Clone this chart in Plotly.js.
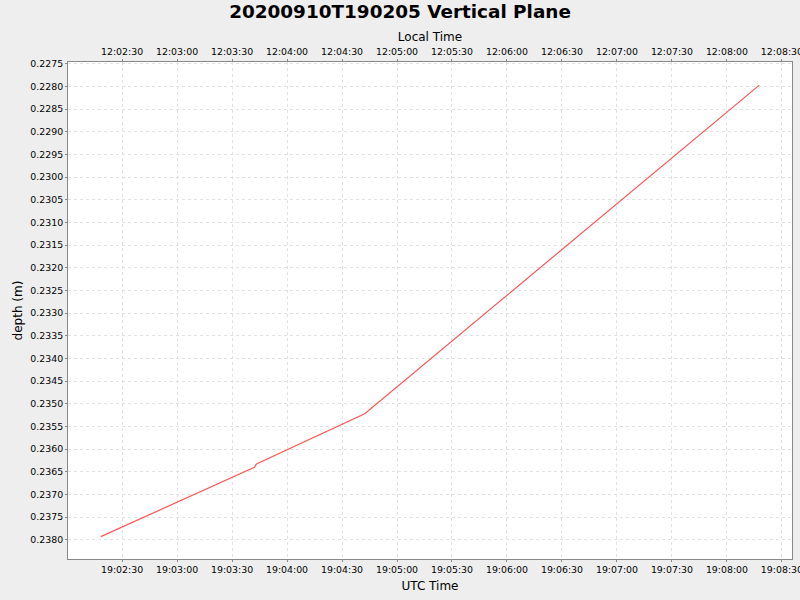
<!DOCTYPE html>
<html>
<head>
<meta charset="utf-8">
<script src="https://cdn.plot.ly/plotly-3.0.1.min.js"></script>
<style>
  body { margin: 0; background: #eeeeee; }
  #plot { width: 800px; height: 600px; }
</style>
</head>
<body>
<div id="plot"></div>
<script>
// depth readings along the vertical plane (UTC)
var utcTimes = ['2020-09-10 19:02:18.4', '2020-09-10 19:03:42.2', '2020-09-10 19:03:43.3',
                '2020-09-10 19:04:42.4', '2020-09-10 19:08:17.7'];
var depths = [0.23793, 0.23640, 0.23633, 0.23522, 0.22797];
var utcOffsetHours = -7;

function shiftTime(s, hours) {
  var d = new Date(s.replace(' ', 'T') + 'Z');
  d = new Date(d.getTime() + hours * 3600000);
  return d.toISOString().replace('T', ' ').replace('Z', '');
}
var localTimes = utcTimes.map(function (t) { return shiftTime(t, utcOffsetHours); });

var xRange = ['2020-09-10 19:02:00.5', '2020-09-10 19:08:35.5'];
var x2Range = xRange.map(function (t) { return shiftTime(t, utcOffsetHours); });

var tickFont = { family: 'DejaVu Sans', size: 9.4, color: '#000' };
var titleFont = { family: 'DejaVu Sans', size: 12, color: '#000' };
var gridColor = '#e2e2e2';

var trace1 = {
  x: utcTimes, y: depths,
  type: 'scatter', mode: 'lines',
  line: { color: '#ff5555', width: 1.2 },
  hoverinfo: 'x+y'
};
var trace2 = {
  x: localTimes, y: depths,
  xaxis: 'x2', type: 'scatter', mode: 'lines',
  line: { color: 'rgba(0,0,0,0)', width: 0 },
  hoverinfo: 'skip', showlegend: false
};

var layout = {
  width: 800, height: 600,
  paper_bgcolor: '#eeeeee', plot_bgcolor: '#ffffff',
  showlegend: false,
  margin: { l: 68, r: 8, t: 62, b: 41 },
  title: {
    text: '<b>20200910T190205 Vertical Plane</b>',
    font: { family: 'DejaVu Sans', size: 18.4, color: '#000' },
    x: 0.5, xanchor: 'center', y: 0.98, yanchor: 'middle'
  },
  xaxis: {
    type: 'date', range: xRange,
    tick0: '2020-09-10 19:02:00', dtick: 30000, tickformat: '%H:%M:%S',
    ticks: 'outside', ticklen: 2, tickcolor: '#888',
    tickfont: tickFont, ticklabeloverflow: 'allow',
    showgrid: true, gridcolor: gridColor, griddash: '3px,3px',
    showline: true, linecolor: '#888', mirror: false, zeroline: false,
    title: { text: 'UTC Time', font: titleFont, standoff: 7 }
  },
  xaxis2: {
    type: 'date', range: x2Range, overlaying: 'x', side: 'top', anchor: 'y',
    tick0: '2020-09-10 12:02:00', dtick: 30000, tickformat: '%H:%M:%S',
    ticks: 'outside', ticklen: 2, tickcolor: '#888',
    tickfont: tickFont, ticklabeloverflow: 'allow',
    showgrid: false, showline: true, linecolor: '#888', zeroline: false,
    title: { text: 'Local Time', font: titleFont, standoff: 2 }
  },
  yaxis: {
    range: [0.238424, 0.22746],
    tick0: 0.2275, dtick: 0.0005, tickformat: '.4f',
    ticks: 'outside', ticklen: 2, tickcolor: '#888',
    tickfont: tickFont,
    showgrid: true, gridcolor: gridColor, griddash: '3px,3px',
    showline: true, linecolor: '#888', mirror: true, zeroline: false,
    title: { text: 'depth (m)', font: titleFont, standoff: 5 }
  }
};

Plotly.newPlot('plot', [trace1, trace2], layout, { displayModeBar: false, staticPlot: true });
</script>
</body>
</html>
